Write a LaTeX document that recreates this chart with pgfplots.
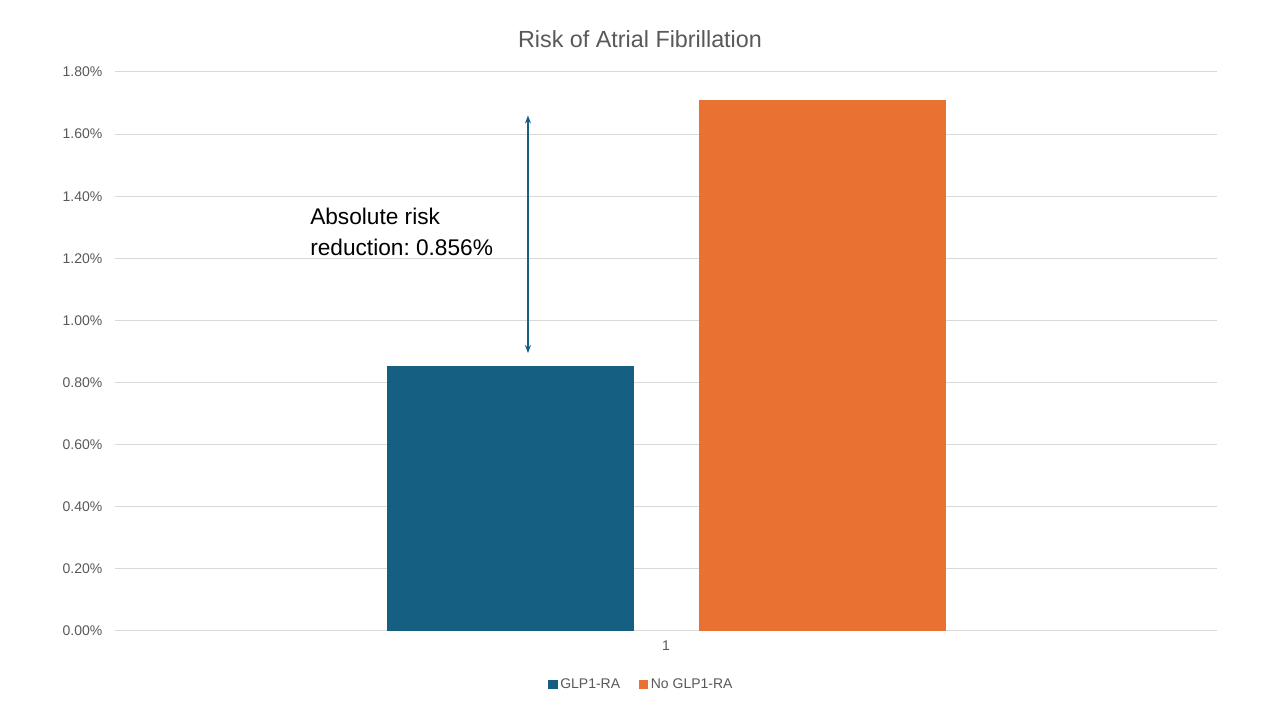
\documentclass[border=0pt]{standalone}
\usepackage{pgfplots}
\pgfplotsset{compat=1.18}
\usepackage{fontspec}
\setmainfont{Liberation Sans}
\usetikzlibrary{arrows.meta}
\definecolor{cblue}{HTML}{156082}
\definecolor{corange}{HTML}{E97132}
\definecolor{tgray}{HTML}{595959}
\definecolor{ggray}{HTML}{D9D9D9}
\begin{document}
\frenchspacing
\begin{tikzpicture}[x=0.75pt,y=0.75pt]
\useasboundingbox (0,0) rectangle (1280,720);
\fill[white] (0,0) rectangle (1280,720);
\begin{axis}[
  at={(86.25pt,66.75pt)}, anchor=south west,
  scale only axis, width=826.5pt, height=419.25pt,
  xmin=0, xmax=2, ymin=0, ymax=1.8,
  ybar=48.75pt, bar width=185.25pt,
  xtick={1}, xticklabels={1},
  ytick={0,0.2,...,1.8},
  /pgf/number format/assume math mode=true,
  yticklabel={\pgfmathprintnumber[fixed,fixed zerofill,precision=2]{\tick}\%},
  ymajorgrids, grid style={ggray, line width=0.75pt},
  axis x line*=bottom,
  axis y line*=left,
  x axis line style={draw=ggray, line width=0.75pt, -},
  y axis line style={draw=none},
  major tick length=0pt,
  tick label style={font=\fontsize{10.5}{12}\selectfont, text=tgray},
  yticklabel style={xshift=-6pt},
  xticklabel style={yshift=-4pt},
  legend style={at={(0.478,-0.075)}, anchor=north, draw=none, legend columns=2,
    font=\fontsize{10.5}{12}\selectfont, text=tgray,
    /tikz/every even column/.append style={column sep=12pt}},
  legend image code/.code={\fill[#1] (0pt,-3.5pt) rectangle (7pt,3.5pt);},
]
\addplot[fill=cblue, draw=none] coordinates {(1,0.853)};
\addlegendentry{GLP1-RA}
\addplot[fill=corange, draw=none] coordinates {(1,1.709)};
\addlegendentry{No GLP1-RA}
\draw[cblue, line width=1pt, {Stealth[length=6pt,width=4.5pt]}-{Stealth[length=6pt,width=4.5pt]}] (axis cs:0.7495,1.66) -- (axis cs:0.7495,0.895);
\end{axis}
\node[font=\fontsize{17.5}{20}\selectfont, text=tgray] at (640,681) {Risk of Atrial Fibrillation};
\node[font=\fontsize{17}{23}\selectfont, anchor=north west, align=left, inner sep=0pt] at (310,512) {Absolute risk\\reduction: 0.856\%};
\end{tikzpicture}
\end{document}
